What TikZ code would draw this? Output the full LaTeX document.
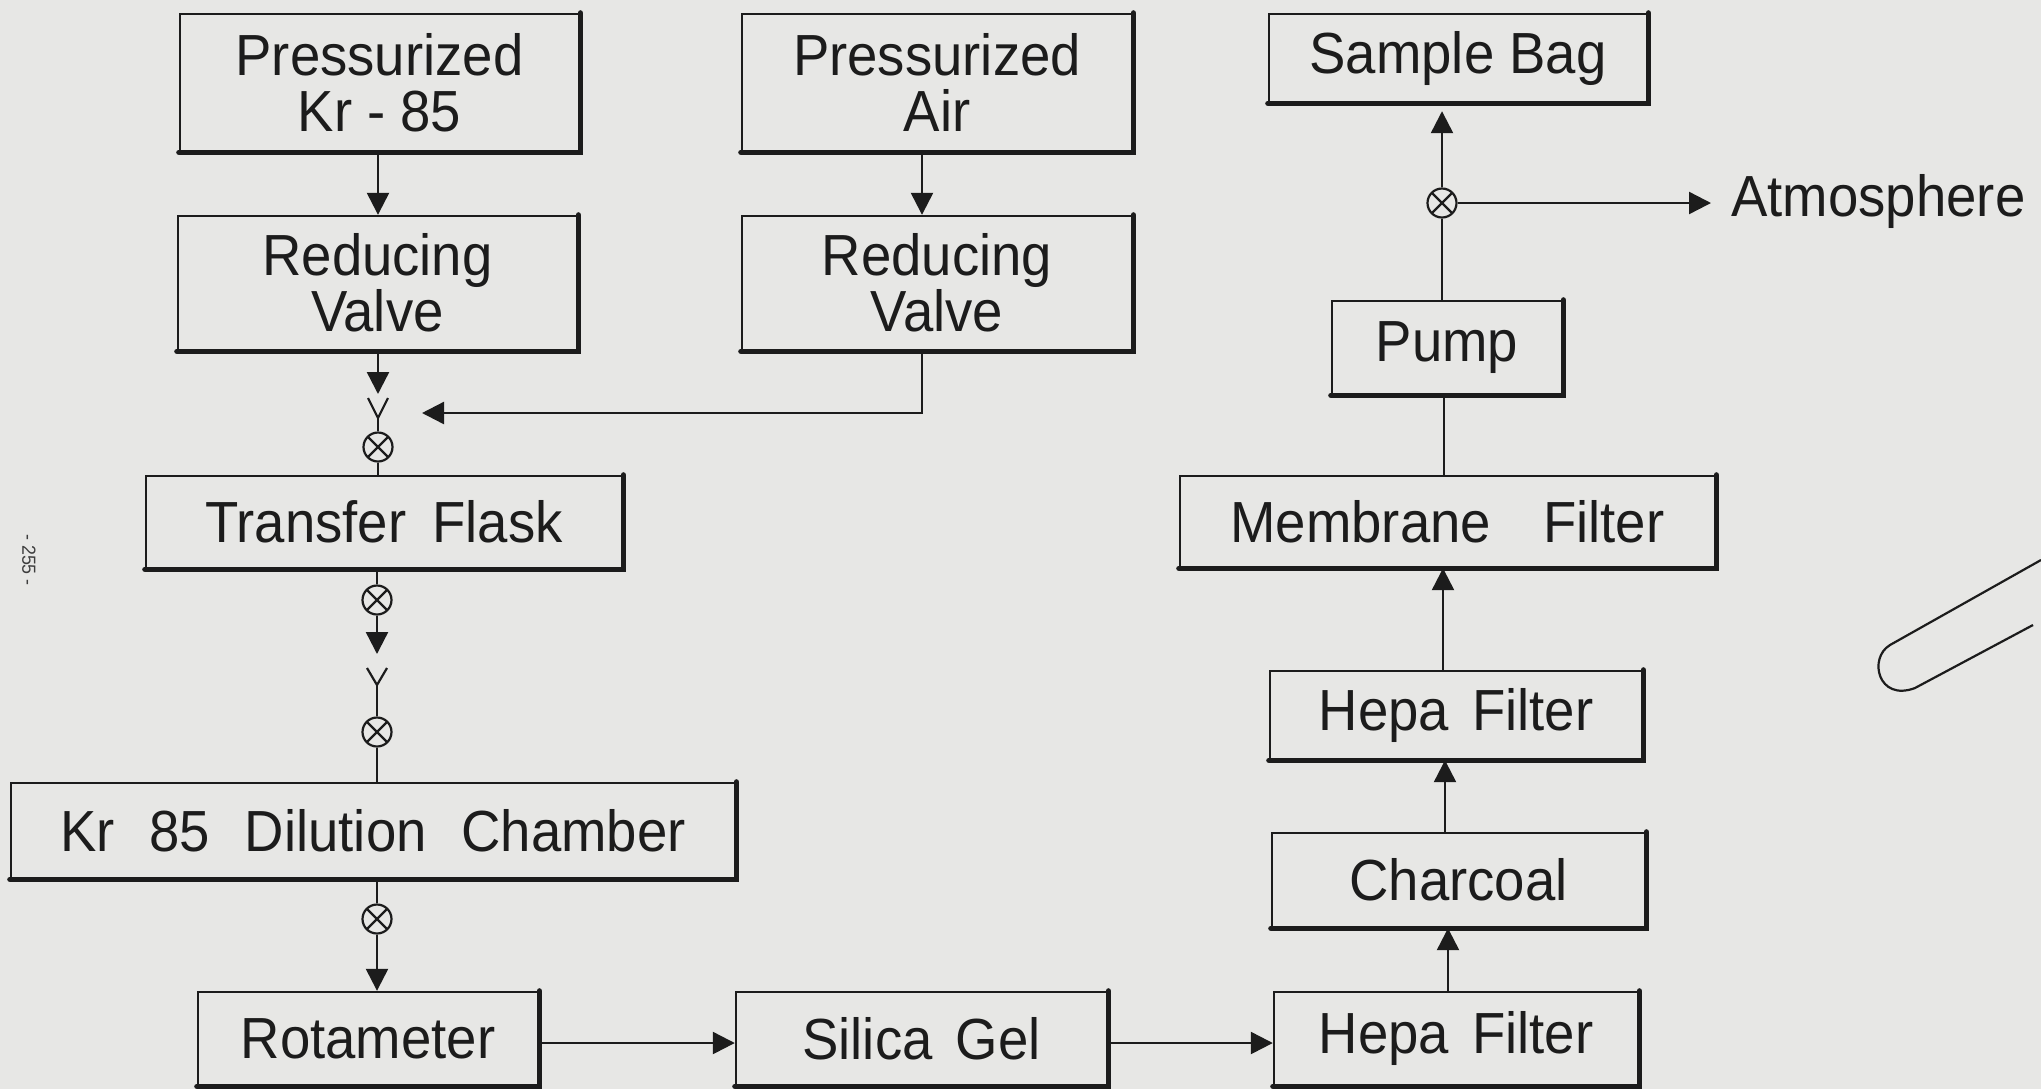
\documentclass[tikz,border=0pt]{standalone}
\usepackage{fontspec}
\setmainfont{Liberation Sans}[FakeStretch=0.94]
\usetikzlibrary{arrows.meta}
\definecolor{paper}{RGB}{231,231,229}
\definecolor{ink}{RGB}{28,28,28}
\tikzset{
  unitbox/.style={draw=ink, line width=1.2pt, inner sep=0pt, align=center,
    font=\fontsize{29}{28}\selectfont, text=ink},
  flow/.style={draw=ink, line width=1.2pt},
  arr/.style={flow, -{Triangle[length=11pt,width=11pt]}},
  valve/.style={circle, draw=ink, line width=1.1pt, minimum size=14.5pt, inner sep=0pt,
    path picture={\draw[ink, line width=1.1pt]
      (path picture bounding box.south west) -- (path picture bounding box.north east)
      (path picture bounding box.north west) -- (path picture bounding box.south east);}},
  thickedge/.style={draw=ink, line width=2.6pt, line cap=round},
  yarm/.style={draw=ink, line width=1.1pt}
}
\begin{document}
\begin{tikzpicture}[x=0.5pt, y=-0.5pt]
\fill[paper] (0,0) rectangle (2041,1089);
\useasboundingbox (0,0) rectangle (2041,1089);

% boxes
\node[unitbox, minimum width=199.5pt, minimum height=68.5pt] (kr) at (379.5,82.5) {Pressurized\\Kr - 85};
\node[unitbox, minimum width=195pt, minimum height=68.5pt] (air) at (937,82.5) {Pressurized\\Air};
\node[unitbox, minimum width=189pt, minimum height=44pt] (bag) at (1458,58) {Sample Bag};
\node[unitbox, minimum width=199.5pt, minimum height=67pt] (rv1) at (377.5,283) {Reducing\\Valve};
\node[unitbox, minimum width=195pt, minimum height=67pt] (rv2) at (937,283) {Reducing\\Valve};
\node[unitbox, minimum width=115pt, minimum height=46.5pt] (pump) at (1447,347.5) {Pump};
\node[unitbox, minimum width=238pt, minimum height=46pt] (flask) at (384,522) {Transfer\hspace{0.45em}Flask};
\node[unitbox, minimum width=267.5pt, minimum height=45.5pt] (membrane) at (1447.5,521.5) {Membrane\hspace{0.9em}Filter};
\node[unitbox, minimum width=186pt, minimum height=44pt] (hepa1) at (1456,715) {Hepa\hspace{0.4em}Filter};
\node[unitbox, minimum width=362pt, minimum height=47.5pt] (dilution) at (373,830.5) {Kr\hspace{0.6em}85\hspace{0.6em}Dilution\hspace{0.6em}Chamber};
\node[unitbox, minimum width=186.5pt, minimum height=47pt] (charcoal) at (1458.5,880) {Charcoal};
\node[unitbox, minimum width=170pt, minimum height=46.5pt] (rot) at (368,1038.5) {Rotameter};
\node[unitbox, minimum width=185.5pt, minimum height=46.5pt] (silica) at (921.5,1038.5) {Silica\hspace{0.4em}Gel};
\node[unitbox, minimum width=182pt, minimum height=46.5pt] (hepa2) at (1456,1038.5) {Hepa\hspace{0.4em}Filter};

\foreach \n in {kr,air,bag,rv1,rv2,pump,flask,membrane,hepa1,dilution,charcoal,rot,silica,hepa2}
  \draw[thickedge] (\n.south west) -- (\n.south east) -- (\n.north east);

\node[anchor=base west, inner sep=0pt, font=\fontsize{29}{28}\selectfont, text=ink] (atm) at (1731,216) {Atmosphere};

% valves
\node[valve] (v1) at (378,447) {};
\node[valve] (v2) at (377,600) {};
\node[valve] (v3) at (377,732) {};
\node[valve] (v4) at (377,919) {};
\node[valve] (v5) at (1442,203) {};

% coordinates
\coordinate (xl1) at (378,0);
\coordinate (t1) at (378,394);
\coordinate (y1) at (378,418);
\coordinate (a1) at (922,413);
\coordinate (a2) at (422,413);
\coordinate (t2) at (377,654);
\coordinate (y2) at (377,685);
\coordinate (xl2) at (377,0);
\coordinate (r1) at (0,1043);
\coordinate (xc1) at (1448,0);
\coordinate (xc2) at (1445,0);
\coordinate (xc3) at (1443,0);
\coordinate (xc4) at (1444,0);
\coordinate (xc5) at (1442,0);

% left chain
\draw[arr] (kr.south -| xl1) -- (rv1.north -| xl1);
\draw[arr] (air.south -| a1) -- (rv2.north -| a1);
\draw[arr] (rv1.south -| xl1) -- (t1);
\draw[yarm] (368,398) -- (y1) -- (388,398);
\draw[flow] (y1) -- (v1.north);
\draw[arr] (rv2.south -| a1) -- (a1) -- (a2);
\draw[flow] (v1.south) -- (flask.north -| xl1);
\draw[flow] (flask.south -| xl2) -- (v2.north);
\draw[arr] (v2.south) -- (t2);
\draw[yarm] (367,668) -- (y2) -- (387,668);
\draw[flow] (y2) -- (v3.north);
\draw[flow] (v3.south) -- (dilution.north -| xl2);
\draw[flow] (dilution.south -| xl2) -- (v4.north);
\draw[arr] (v4.south) -- (rot.north -| xl2);

% bottom row
\draw[arr] (rot.east |- r1) -- (silica.west |- r1);
\draw[arr] (silica.east |- r1) -- (hepa2.west |- r1);

% right chain
\draw[arr] (hepa2.north -| xc1) -- (charcoal.south -| xc1);
\draw[arr] (charcoal.north -| xc2) -- (hepa1.south -| xc2);
\draw[arr] (hepa1.north -| xc3) -- (membrane.south -| xc3);
\draw[flow] (membrane.north -| xc4) -- (pump.south -| xc4);
\draw[flow] (pump.north -| xc5) -- (v5.south);
\draw[arr, shorten >=4pt] (v5.north) -- (bag.south -| xc5);
\draw[arr] (v5.east) -- ([xshift=-10pt]atm.west |- v5);

% page number and hook
\node[rotate=-90, inner sep=0pt, font=\fontsize{9.5}{9.5}\selectfont, text=ink!85] (pg) at (29,560) {- 255 -};
\draw[ink, line width=1.1pt] (2041,560) -- (1890,645) .. controls (1868,658) and (1878,702) .. (1915,688) -- (2033,625);
\end{tikzpicture}
\end{document}
